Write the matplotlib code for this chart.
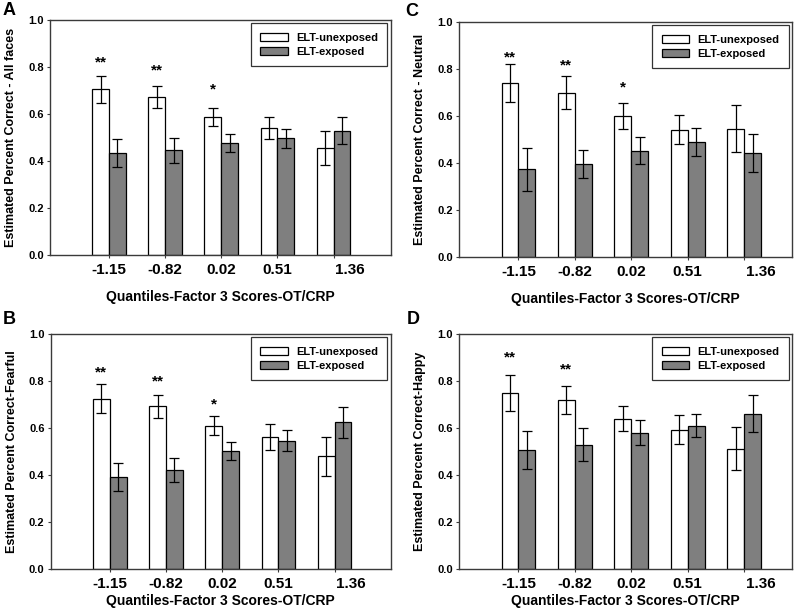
import numpy as np
import matplotlib
matplotlib.use("Agg")
import matplotlib.pyplot as plt

plt.rcParams['font.family'] = ['Liberation Sans', 'DejaVu Sans']
plt.rcParams['font.weight'] = 'bold'

categories = ["-1.15", "-0.82", "0.02", "0.51", "1.36"]
series_names = ["ELT-unexposed", "ELT-exposed"]
x_label = "Quantiles-Factor 3 Scores-OT/CRP"

# Panel A - All faces
A_unexp = [0.705, 0.672, 0.589, 0.539, 0.457]
A_unexp_err = [0.056, 0.046, 0.038, 0.047, 0.072]
A_exp = [0.433, 0.445, 0.478, 0.496, 0.529]
A_exp_err = [0.060, 0.052, 0.038, 0.040, 0.058]
A_stars = ["**", "**", "*", "", ""]
A_star_y = [0.79, 0.755, 0.675, 0, 0]

# Panel C - Neutral
C_unexp = [0.739, 0.699, 0.600, 0.542, 0.546]
C_unexp_err = [0.080, 0.069, 0.057, 0.061, 0.100]
C_exp = [0.372, 0.396, 0.452, 0.488, 0.441]
C_exp_err = [0.090, 0.060, 0.057, 0.060, 0.080]
C_stars = ["**", "**", "*", "", ""]
C_star_y = [0.82, 0.785, 0.69, 0, 0]

# Panel B - Fearful
B_unexp = [0.725, 0.692, 0.610, 0.562, 0.479]
B_unexp_err = [0.060, 0.050, 0.040, 0.054, 0.082]
B_exp = [0.390, 0.421, 0.501, 0.546, 0.624]
B_exp_err = [0.060, 0.051, 0.039, 0.045, 0.067]
B_stars = ["**", "**", "*", "", ""]
B_star_y = [0.805, 0.77, 0.67, 0, 0]

# Panel D - Happy
D_unexp = [0.750, 0.719, 0.640, 0.593, 0.512]
D_unexp_err = [0.077, 0.060, 0.055, 0.060, 0.090]
D_exp = [0.506, 0.528, 0.580, 0.610, 0.661]
D_exp_err = [0.080, 0.071, 0.054, 0.050, 0.080]
D_stars = ["**", "**", "", "", ""]
D_star_y = [0.87, 0.82, 0, 0, 0]

panels = [
    ("A", "Estimated Percent Correct - All faces", A_unexp, A_unexp_err, A_exp, A_exp_err, A_stars, A_star_y,
     [0.0625, 0.582, 0.426, 0.385], (3, 2), 9, 1.02),
    ("C", "Estimated Percent Correct - Neutral", C_unexp, C_unexp_err, C_exp, C_exp_err, C_stars, C_star_y,
     [0.574, 0.579, 0.416, 0.385], (405, 3), 9, 0.85),
    ("B", "Estimated Percent Correct-Fearful", B_unexp, B_unexp_err, B_exp, B_exp_err, B_stars, B_star_y,
     [0.0635, 0.0675, 0.425, 0.385], (3, 311), 2, 1.0),
    ("D", "Estimated Percent Correct-Happy", D_unexp, D_unexp_err, D_exp, D_exp_err, D_stars, D_star_y,
     [0.574, 0.0675, 0.416, 0.385], (407, 311), 2, 0.85),
]

fig = plt.figure(figsize=(8.0, 6.1), dpi=100)
W, H = 800, 610
bw = 0.3
gray = "#7f7f7f"
spine_col = "#3a3a3a"

for letter, ylab, unexp, unexp_err, exp_, exp_err, stars, star_y, rect, lpos, xpad, rmargin in panels:
    ax = fig.add_axes(rect)
    x = np.arange(len(categories))
    ekw = dict(ecolor='black', elinewidth=0.9, capsize=3.5, capthick=0.9)
    b1 = ax.bar(x - bw / 2, unexp, bw, yerr=unexp_err, color='white', edgecolor='black',
                linewidth=0.9, error_kw=ekw, label=series_names[0], zorder=2)
    b2 = ax.bar(x + bw / 2, exp_, bw, yerr=exp_err, color=gray, edgecolor='black',
                linewidth=0.9, error_kw=ekw, label=series_names[1], zorder=2)
    for xi, s, sy in zip(x, stars, star_y):
        if s:
            ax.text(xi - bw / 2, sy, s, ha='center', va='bottom', fontsize=11, fontweight='bold')
    ax.set_xlim(-1.05, len(categories) - 1 + rmargin)
    ax.set_ylim(0, 1.0)
    ax.set_yticks(np.arange(0, 1.01, 0.2))
    ax.set_yticklabels([f"{v:.1f}" for v in np.arange(0, 1.01, 0.2)], fontsize=8, fontweight='bold')
    ax.set_xticks(x)
    # last label is shifted right in the reference, draw it separately
    ax.set_xticklabels(categories[:-1] + [""], fontsize=11, fontweight='bold')
    ax.annotate(categories[-1], xy=(x[-1], 0), xycoords=('data', 'axes fraction'),
                xytext=(12, -5.8), textcoords='offset points', ha='center', va='top',
                fontsize=11, fontweight='bold')
    ax.tick_params(axis='both', direction='out', length=2.5, width=0.8, color=spine_col)
    ax.tick_params(axis='y', pad=2)
    ax.tick_params(axis='x', pad=3.5)
    for sp in ax.spines.values():
        sp.set_color(spine_col)
        sp.set_linewidth(1.0)
    ax.set_xlabel(x_label, fontsize=10, fontweight='bold', labelpad=xpad)
    ax.set_ylabel(ylab, fontsize=9, fontweight='bold', labelpad=8)
    leg = ax.legend(handles=[b1, b2], loc='upper right', bbox_to_anchor=(1.0, 1.0),
                    borderaxespad=0.3, fontsize=8, frameon=True, fancybox=False,
                    handlelength=2.5, handleheight=0.7, handletextpad=0.7,
                    labelspacing=0.35, borderpad=0.85, edgecolor='black')
    leg.get_frame().set_linewidth(0.9)
    for t in leg.get_texts():
        t.set_fontweight('bold')
    fig.text(lpos[0] / W, 1 - lpos[1] / H, letter, ha='left', va='top', fontsize=13, fontweight='bold')

fig.savefig("out.png", dpi=100)
